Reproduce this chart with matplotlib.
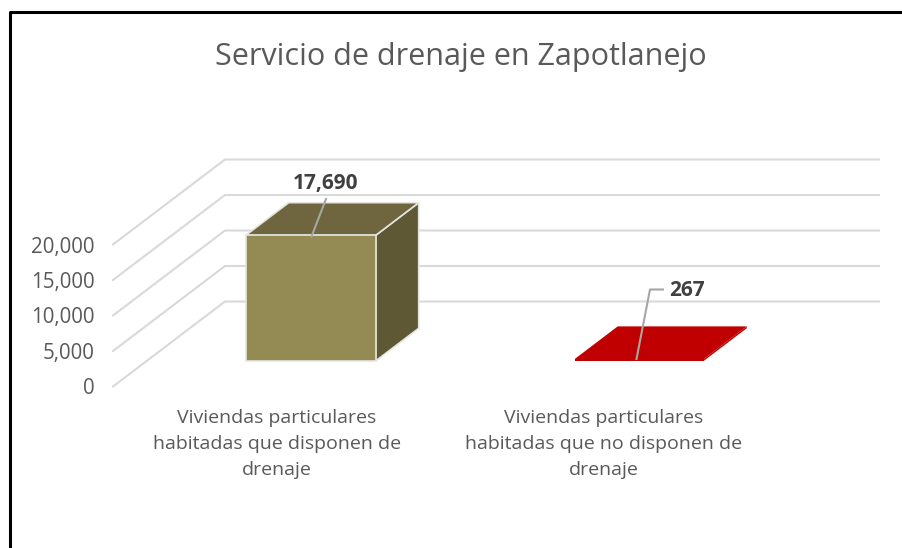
import numpy as np
import matplotlib
matplotlib.use("Agg")
import matplotlib.pyplot as plt
from matplotlib.patches import Polygon

categories = [
    "Viviendas particulares\nhabitadas que disponen de\ndrenaje",
    "Viviendas particulares\nhabitadas que no disponen de\ndrenaje",
]
values = [17690, 267]
value_labels = ["17,690", "267"]
yticks = [0, 5000, 10000, 15000, 20000]
ytick_labels = ["0", "5,000", "10,000", "15,000", "20,000"]
title = "Servicio de drenaje en Zapotlanejo"

TEXT = "#595959"
GRID = "#D9D9D9"

plt.rcParams['font.family'] = ['Open Sans', 'DejaVu Sans']

# oblique projection of the 3d box, in pixels of the picture
X0, Y0 = 113, 386.5
PX_PER_UNIT = 142 / 20000
DEPTH_X, DEPTH_Y = 112, -85


def proj(x, v, d=0.0):
    return (X0 + x + d * DEPTH_X, Y0 - v * PX_PER_UNIT + d * DEPTH_Y)


fig = plt.figure(figsize=(9.03, 5.48), dpi=100)
ax = fig.add_axes([0, 0, 1, 1])
ax.set_xlim(0, 903)
ax.set_ylim(548, 0)
ax.axis("off")

# chart border, right side falls off the picture
ax.plot([903, 10.5, 10.5], [11.5, 11.5, 548], color="black", lw=2.2, solid_capstyle="butt")

# grid: floor line up the side wall, then along the back wall
for v, lab in zip(yticks, ytick_labels):
    a = proj(0, v, 0)
    b = proj(0, v, 1)
    c = (879, b[1])
    ax.plot([a[0], b[0], c[0]], [a[1], b[1], c[1]], color=GRID, lw=1.5, zorder=1,
            solid_joinstyle="miter")
    ax.text(95, a[1] + 2.5, lab, ha="right", va="center", fontsize=14.8, color=TEXT)

# boxes
bar_x = [99, 428]
bar_w = [130, 129]
d_front, d_back = 0.30, 0.685
front_c = ["#948A54", "#C00000"]
top_c = ["#6F653F", "#C00000"]
side_c = ["#5F5835", "#C00000"]
edge_c = ["#E6E6E0", "none"]

for x, w, v, fc, tc, sc, ec in zip(bar_x, bar_w, values, front_c, top_c, side_c, edge_c):
    fl0 = proj(x, 0, d_front)
    fr0 = proj(x + w, 0, d_front)
    fl1 = proj(x, v, d_front)
    fr1 = proj(x + w, v, d_front)
    bl1 = proj(x, v, d_back)
    br1 = proj(x + w, v, d_back)
    br0 = proj(x + w, 0, d_back)
    ax.add_patch(Polygon([fr0, br0, br1, fr1], closed=True, fc=sc, ec=ec, lw=1.2, zorder=3))
    ax.add_patch(Polygon([fl1, fr1, br1, bl1], closed=True, fc=tc, ec=ec, lw=1.2, zorder=3))
    ax.add_patch(Polygon([fl0, fr0, fr1, fl1], closed=True, fc=fc, ec=ec, lw=1.2, zorder=4))

# leader lines and data labels
ax.plot([311.5, 326], [236.5, 199], color="#A6A6A6", lw=1.5, zorder=5)
ax.plot([636.5, 650, 663], [359, 289.5, 289.5], color="#A6A6A6", lw=1.5, zorder=5)
ax.text(325.5, 184, value_labels[0], ha="center", va="center", fontsize=15,
        fontweight="bold", color="#404040", zorder=6)
ax.text(687, 291, value_labels[1], ha="center", va="center", fontsize=15,
        fontweight="bold", color="#404040", zorder=6)

# category labels
ax.text(277, 444, categories[0], ha="center", va="center", fontsize=14, color=TEXT, linespacing=1.55)
ax.text(604, 444, categories[1], ha="center", va="center", fontsize=14, color=TEXT, linespacing=1.55)

ax.text(461, 57, title, ha="center", va="center", fontsize=22, color=TEXT)

fig.savefig("out.png", dpi=100)
plt.close(fig)
